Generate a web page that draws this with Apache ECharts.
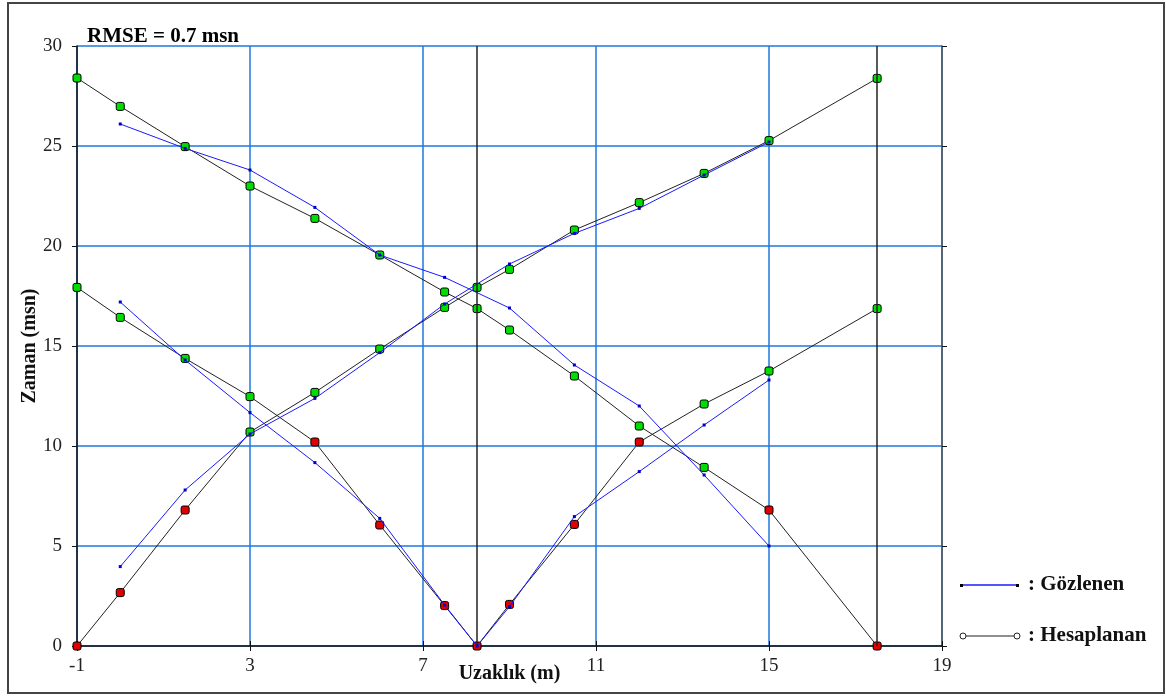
<!DOCTYPE html>
<html>
<head>
<meta charset="utf-8">
<script src="https://cdn.jsdelivr.net/npm/echarts@6/dist/echarts.min.js"></script>
<style>
  html, body { margin: 0; padding: 0; background: #fff; }
  #chart { width: 1166px; height: 696px; }
</style>
</head>
<body>
<div id="chart"></div>
<script>
// Station positions along the profile (m): shot points and geophones
const stations = [-1, 0, 1.5, 3, 4.5, 6, 7.5, 8.25, 9, 10.5, 12, 13.5, 15, 17.5];
const shotPositions = [-1, 8.25, 17.5];

// Calculated first-arrival times (msn), one list per shot
const calcShot1 = [0, 2.67, 6.8, 10.7, 12.68, 14.85, 16.93, 17.93, 18.83, 20.8, 22.17, 23.63, 25.27, 28.38];
const calcShot2 = [17.93, 16.43, 14.38, 12.47, 10.2, 6.05, 2.02, 0, 2.08, 6.08, 10.2, 12.1, 13.75, 16.87];
const calcShot3 = [28.4, 26.98, 24.97, 23.0, 21.38, 19.55, 17.7, 16.87, 15.8, 13.5, 11.0, 8.93, 6.8, 0];

// Wave type of each calculated arrival: D = direct, R = refracted
const waveShot1 = ['D','D','D','R','R','R','R','R','R','R','R','R','R','R'];
const waveShot2 = ['R','R','R','R','D','D','D','D','D','D','D','R','R','R'];
const waveShot3 = ['R','R','R','R','R','R','R','R','R','R','R','R','D','D'];

// Observed (picked) times (msn); null where no pick exists
const obsShot1 = [null, 3.97, 7.8, 10.6, 12.38, 14.67, 17.1, null, 19.1, 20.63, 21.88, 23.55, 25.2, null];
const obsShot2 = [null, 17.2, 14.3, 11.67, 9.17, 6.38, 2.05, 0, 1.97, 6.47, 8.72, 11.05, 13.3, null];
const obsShot3 = [null, 26.1, 24.88, 23.8, 21.93, 19.55, 18.43, null, 16.9, 14.05, 12.0, 8.55, 5.0, null];

// Axis ticks
const xTicks = [-1, 3, 7, 11, 15, 19];
const yTicks = [0, 5, 10, 15, 20, 25, 30];

const rmseText = 'RMSE = 0.7 msn';
const xName = 'Uzaklık (m)';
const yName = 'Zaman (msn)';
const legendObs = ': Gözlenen';
const legendCalc = ': Hesaplanan';

const SERIF = '"Liberation Serif", "Times New Roman", serif';
const GRID_BLUE = '#1e78dc';
const waveColor = { D: '#e00000', R: '#00dd00' };

function calcSeries(name, times, waves, withShotLines) {
  const s = {
    name: name,
    type: 'line',
    data: stations.map((x, i) => ({
      value: [x, times[i]],
      itemStyle: { color: waveColor[waves[i]] }
    })),
    symbol: 'roundRect',
    symbolSize: 8,
    showAllSymbol: true,
    lineStyle: { color: '#222', width: 1 },
    itemStyle: { borderColor: '#000', borderWidth: 1 },
    z: 3,
    silent: true,
    animation: false
  };
  if (withShotLines) {
    s.markLine = {
      silent: true,
      symbol: ['none', 'none'],
      label: { show: false },
      lineStyle: { color: '#222', width: 1.5, type: 'solid' },
      data: shotPositions.filter(x => x > xTicks[0]).map(x => ({ xAxis: x }))
    };
  }
  return s;
}

function obsSeries(name, times) {
  return {
    name: name,
    type: 'line',
    data: stations.map((x, i) => [x, times[i]]).filter(d => d[1] !== null),
    symbol: 'rect',
    symbolSize: 3,
    showAllSymbol: true,
    lineStyle: { color: '#1a1aff', width: 1 },
    itemStyle: { color: '#0000c8' },
    z: 4,
    silent: true,
    animation: false
  };
}

const chart = echarts.init(document.getElementById('chart'), null, { renderer: 'canvas' });

const axisCommon = {
  type: 'value',
  axisTick: { show: true, inside: false, length: 5, lineStyle: { color: '#111', width: 1 } },
};

chart.setOption({
  animation: false,
  backgroundColor: '#fff',
  grid: { left: 77, right: 224, top: 46, bottom: 50, containLabel: false, outerBoundsMode: 'none' },
  title: {
    text: rmseText,
    left: 82, top: 21,
    textStyle: { fontFamily: SERIF, fontWeight: 'bold', fontSize: 21, color: '#000' }
  },
  xAxis: [
    Object.assign({}, axisCommon, {
      position: 'bottom',
      min: xTicks[0], max: xTicks[xTicks.length - 1], interval: xTicks[1] - xTicks[0],
      axisLine: { show: true, onZero: false, lineStyle: { color: '#111', width: 1.5 } },
      axisLabel: { show: true, margin: 11, fontFamily: SERIF, fontSize: 19, color: '#222' },
      splitLine: { show: true, lineStyle: { color: GRID_BLUE, width: 1.5 } },
      name: xName, nameLocation: 'middle', nameGap: 18, nameMoveOverlap: false,
      nameTextStyle: { fontFamily: SERIF, fontWeight: 'bold', fontSize: 20, color: '#111' }
    }),
    Object.assign({}, axisCommon, {
      position: 'top',
      min: xTicks[0], max: xTicks[xTicks.length - 1], interval: xTicks[1] - xTicks[0],
      axisLine: { show: false },
      axisLabel: { show: false },
      splitLine: { show: false }
    })
  ],
  yAxis: [
    Object.assign({}, axisCommon, {
      position: 'left',
      min: yTicks[0], max: yTicks[yTicks.length - 1], interval: yTicks[1] - yTicks[0],
      axisLine: { show: true, onZero: false, lineStyle: { color: '#111', width: 1.5 } },
      axisLabel: { show: true, margin: 15, padding: [0, 0, 5, 0], fontFamily: SERIF, fontSize: 19, color: '#222' },
      splitLine: { show: true, lineStyle: { color: GRID_BLUE, width: 1.5 } },
      name: yName, nameLocation: 'middle', nameGap: 37, nameMoveOverlap: false,
      nameTextStyle: { fontFamily: SERIF, fontWeight: 'bold', fontSize: 20, color: '#111' }
    }),
    Object.assign({}, axisCommon, {
      position: 'right',
      min: yTicks[0], max: yTicks[yTicks.length - 1], interval: yTicks[1] - yTicks[0],
      axisLine: { show: true, onZero: false, lineStyle: { color: '#555', width: 1.5 } },
      axisLabel: { show: false },
      splitLine: { show: false }
    })
  ],
  series: [
    calcSeries('Hesaplanan 1', calcShot1, waveShot1, true),
    calcSeries('Hesaplanan 2', calcShot2, waveShot2, false),
    calcSeries('Hesaplanan 3', calcShot3, waveShot3, false),
    obsSeries('Gözlenen 1', obsShot1),
    obsSeries('Gözlenen 2', obsShot2),
    obsSeries('Gözlenen 3', obsShot3)
  ],
  graphic: [
    // outer frame
    { type: 'rect', shape: { x: 8, y: 3, width: 1156, height: 690 },
      style: { fill: 'none', stroke: '#444', lineWidth: 2 }, silent: true },
    // legend: observed
    { type: 'line', shape: { x1: 961, y1: 585, x2: 1018, y2: 585 },
      style: { stroke: '#1a1aff', lineWidth: 1.5 }, silent: true },
    { type: 'rect', shape: { x: 960, y: 584, width: 3, height: 3 }, style: { fill: '#000' }, silent: true },
    { type: 'rect', shape: { x: 1016, y: 584, width: 3, height: 3 }, style: { fill: '#000' }, silent: true },
    { type: 'text', x: 1028, y: 585, silent: true,
      style: { text: legendObs, fontFamily: SERIF, fontWeight: 'bold', fontSize: 21, fill: '#111', verticalAlign: 'middle' } },
    // legend: calculated
    { type: 'line', shape: { x1: 963, y1: 636, x2: 1017, y2: 636 },
      style: { stroke: '#222', lineWidth: 1.2 }, silent: true },
    { type: 'circle', shape: { cx: 963, cy: 636, r: 3 }, style: { fill: '#fff', stroke: '#222', lineWidth: 1 }, silent: true },
    { type: 'circle', shape: { cx: 1017, cy: 636, r: 3 }, style: { fill: '#fff', stroke: '#222', lineWidth: 1 }, silent: true },
    { type: 'text', x: 1028, y: 636, silent: true,
      style: { text: legendCalc, fontFamily: SERIF, fontWeight: 'bold', fontSize: 21, fill: '#111', verticalAlign: 'middle' } }
  ]
});
</script>
</body>
</html>
